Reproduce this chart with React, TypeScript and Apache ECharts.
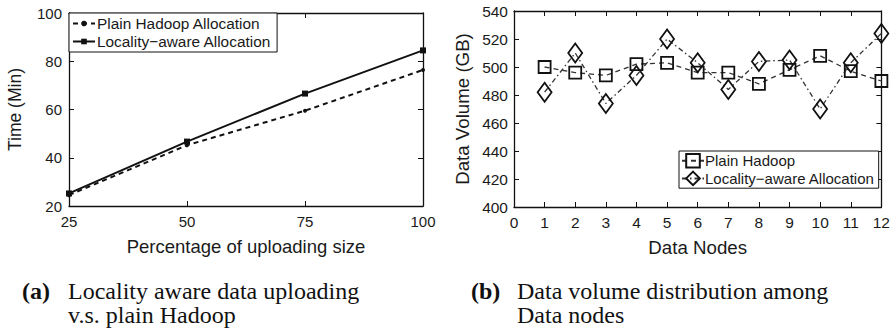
import React, { useEffect, useRef } from "react";
import * as echarts from "echarts";

const uploadPct = [25, 50, 75, 100];
const plainTime = [24.5, 45.2, 59.5, 76.4];
const localityTime = [25.2, 46.7, 66.6, 84.5];

const nodes = [1, 2, 3, 4, 5, 6, 7, 8, 9, 10, 11, 12];
const plainVolume = [500, 496, 494, 502, 503, 496, 496, 488, 498, 508, 497, 490];
const localityVolume = [482, 510, 474, 494, 520, 503, 484, 504, 505, 470, 503, 524];

const leftNames = ["Plain Hadoop Allocation", "Locality\u2212aware Allocation"];
const rightNames = ["Plain Hadoop", "Locality\u2212aware Allocation"];
// internal series keys for the right panel (must differ from the left panel's names)
const rightKeys = ["right-plain", "right-locality"];

const SANS = "'Liberation Sans', Arial, Helvetica, sans-serif";
const SERIF = "'Liberation Serif', 'Times New Roman', serif";
const INK = "#111";

function axisCommon(show: boolean, fontSize = 15, margin = 8) {
  return {
    axisLine: { show: true, onZero: false, lineStyle: { color: INK, width: 1.3 } },
    axisTick: { show: true, inside: true, length: 5, lineStyle: { color: INK, width: 1 } },
    splitLine: { show: false },
    axisLabel: {
      show,
      color: "#1a1a1a",
      fontFamily: SANS,
      fontSize,
      margin,
    },
  };
}

export default function App() {
  const ref = useRef<HTMLDivElement>(null);

  useEffect(() => {
    if (!ref.current) return;
    const chart = echarts.init(ref.current, undefined, { renderer: "svg" });

    const pairs = (xs: number[], ys: number[]) => xs.map((x, i) => [x, ys[i]]);

    const option: any = {
      animation: false,
      backgroundColor: "#fff",
      grid: [
        { left: 69, top: 13, width: 354, height: 193 },
        { left: 514, top: 11, width: 368, height: 196 },
      ],
      xAxis: [
        {
          ...axisCommon(true, 15, 8),
          gridIndex: 0,
          type: "value",
          position: "bottom",
          min: 25,
          max: 100,
          interval: 25,
          name: "Percentage of uploading size",
          nameLocation: "middle",
          nameGap: 31,
          nameTextStyle: { fontFamily: SANS, fontSize: 18.5, color: "#1a1a1a" },
        },
        {
          ...axisCommon(false),
          gridIndex: 0,
          type: "value",
          position: "top",
          min: 25,
          max: 100,
          interval: 25,
        },
        {
          ...axisCommon(true, 15.5, 7),
          gridIndex: 1,
          type: "value",
          position: "bottom",
          min: 0,
          max: 12,
          interval: 1,
          name: "Data Nodes",
          nameLocation: "middle",
          nameGap: 31,
          nameTextStyle: { fontFamily: SANS, fontSize: 18.7, color: "#1a1a1a" },
        },
        {
          ...axisCommon(false),
          gridIndex: 1,
          type: "value",
          position: "top",
          min: 0,
          max: 12,
          interval: 1,
        },
      ],
      yAxis: [
        {
          ...axisCommon(true, 15, 7),
          gridIndex: 0,
          type: "value",
          position: "left",
          min: 20,
          max: 100,
          interval: 20,
          name: "Time (Min)",
          nameLocation: "middle",
          nameGap: 45,
          nameTextStyle: { fontFamily: SANS, fontSize: 17.5, color: "#1a1a1a" },
        },
        {
          ...axisCommon(false),
          gridIndex: 0,
          type: "value",
          position: "right",
          min: 20,
          max: 100,
          interval: 20,
        },
        {
          ...axisCommon(true, 15.5, 6),
          gridIndex: 1,
          type: "value",
          position: "left",
          min: 400,
          max: 540,
          interval: 20,
          name: "Data Volume (GB)",
          nameLocation: "middle",
          nameGap: 42,
          nameTextStyle: { fontFamily: SANS, fontSize: 18.7, color: "#1a1a1a" },
        },
        {
          ...axisCommon(false),
          gridIndex: 1,
          type: "value",
          position: "right",
          min: 400,
          max: 540,
          interval: 20,
        },
      ],
      legend: [
        {
          data: leftNames,
          orient: "vertical",
          left: 69,
          top: 13,
          padding: [3, 6, 3, 3],
          itemGap: 3,
          itemWidth: 22,
          itemHeight: 7,
          backgroundColor: "#fff",
          borderColor: INK,
          borderWidth: 1,
          borderRadius: 0,
          textStyle: { fontFamily: SANS, fontSize: 15.4, color: "#1a1a1a", padding: [0, 0, 0, -3] },
        },
        {
          data: rightKeys,
          orient: "vertical",
          left: 679,
          top: 151,
          padding: [2, 4, 2, 2],
          itemGap: 2,
          itemWidth: 22,
          itemHeight: 17,
          backgroundColor: "#fff",
          borderColor: INK,
          borderWidth: 1,
          borderRadius: 0,
          formatter: (name: string) => rightNames[rightKeys.indexOf(name)],
          textStyle: { fontFamily: SANS, fontSize: 15, color: "#1a1a1a", padding: [0, 0, 0, -4] },
        },
      ],
      series: [
        {
          name: leftNames[0],
          type: "line",
          xAxisIndex: 0,
          yAxisIndex: 0,
          data: pairs(uploadPct, plainTime),
          symbol: "circle",
          symbolSize: 4,
          lineStyle: { color: INK, width: 2, type: [5, 4] },
          itemStyle: { color: INK },
          clip: false,
        },
        {
          name: leftNames[1],
          type: "line",
          xAxisIndex: 0,
          yAxisIndex: 0,
          data: pairs(uploadPct, localityTime),
          symbol: "rect",
          symbolSize: 6,
          lineStyle: { color: INK, width: 2, type: "solid" },
          itemStyle: { color: INK },
          clip: false,
        },
        {
          name: rightKeys[0],
          type: "line",
          xAxisIndex: 2,
          yAxisIndex: 2,
          data: pairs(nodes, plainVolume),
          symbol: "rect",
          symbolSize: 12,
          lineStyle: { color: "#333", width: 1.3, type: [5, 4] },
          itemStyle: { color: "rgba(255,255,255,0)", borderColor: INK, borderWidth: 1.8 },
          clip: false,
        },
        {
          name: rightKeys[1],
          type: "line",
          xAxisIndex: 2,
          yAxisIndex: 2,
          data: pairs(nodes, localityVolume),
          symbol: "diamond",
          symbolSize: [14, 19],
          lineStyle: { color: "#333", width: 1.3, type: [5, 3, 1.5, 3] },
          itemStyle: { color: "rgba(255,255,255,0)", borderColor: INK, borderWidth: 1.8 },
          clip: false,
        },
      ],
      graphic: [
        {
          type: "text",
          x: 22,
          y: 291,
          style: { text: "(a)", font: `bold 24px ${SERIF}`, fill: "#111", verticalAlign: "middle" },
        },
        {
          type: "text",
          x: 68,
          y: 291,
          style: { text: "Locality aware data uploading", font: `24px ${SERIF}`, fill: "#111", verticalAlign: "middle" },
        },
        {
          type: "text",
          x: 68,
          y: 315,
          style: { text: "v.s. plain Hadoop", font: `24px ${SERIF}`, fill: "#111", verticalAlign: "middle" },
        },
        {
          type: "text",
          x: 471,
          y: 291,
          style: { text: "(b)", font: `bold 24px ${SERIF}`, fill: "#111", verticalAlign: "middle" },
        },
        {
          type: "text",
          x: 517,
          y: 291,
          style: { text: "Data volume distribution among", font: `24px ${SERIF}`, fill: "#111", verticalAlign: "middle" },
        },
        {
          type: "text",
          x: 517,
          y: 315,
          style: { text: "Data nodes", font: `24px ${SERIF}`, fill: "#111", verticalAlign: "middle" },
        },
      ],
    };

    chart.setOption(option);
    return () => chart.dispose();
  }, []);

  return (
    <div
      ref={ref}
      style={{ position: "absolute", left: 0, top: 0, width: 893, height: 331, background: "#fff" }}
    />
  );
}
